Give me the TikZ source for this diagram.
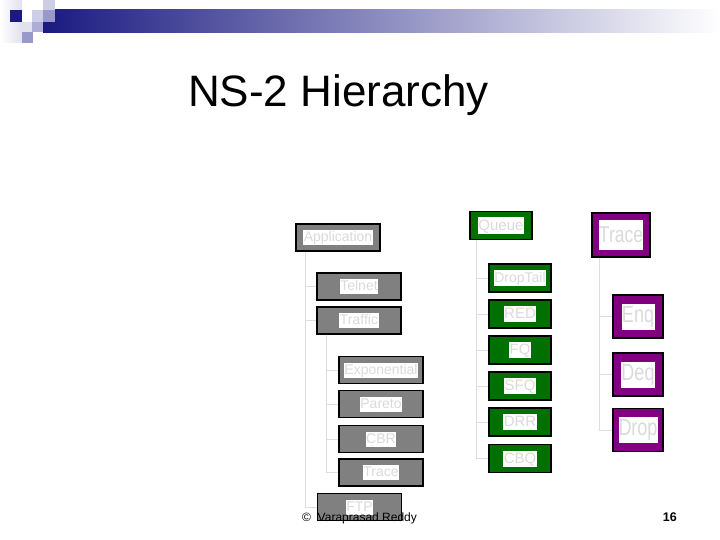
\documentclass[tikz,border=0pt]{standalone}
\usepackage{fontspec}
\setmainfont{Liberation Sans}
\definecolor{navy}{RGB}{26,26,128}
\definecolor{barmid}{RGB}{165,165,190}
\definecolor{sqlight}{RGB}{205,205,232}
\definecolor{sqmid}{RGB}{152,152,204}
\definecolor{sqpale}{RGB}{225,225,240}
\definecolor{boxgray}{RGB}{128,128,128}
\definecolor{boxgreen}{RGB}{0,112,0}
\definecolor{boxpurple}{RGB}{128,0,128}
\definecolor{txtgray}{RGB}{218,218,218}
\definecolor{linegray}{RGB}{222,222,222}
\begin{document}
\begin{tikzpicture}[x=1pt,y=-1pt,
  gbox/.style={draw=black, line width=1.2pt, fill=boxgray, minimum width=84, minimum height=27, inner sep=0pt},
  grbox/.style={draw=black, line width=1.2pt, fill=boxgreen, minimum width=62, minimum height=28, inner sep=0pt},
  pbox/.style={draw=black, line width=1.2pt, fill=boxpurple, minimum width=50, minimum height=43, inner sep=0pt},
  glab/.style={fill=white, text=txtgray, font=\fontsize{14}{14}\selectfont, inner xsep=0.5pt, inner ysep=0.5pt, text height=11pt, text depth=3pt},
  grlab/.style={fill=white, text=txtgray, font=\fontsize{15}{15}\selectfont, inner xsep=0.5pt, inner ysep=0.5pt, text height=12pt, text depth=3pt},
  plab/.style={fill=white, text=txtgray, font=\fontsize{18}{18}\selectfont, inner sep=0pt, minimum width=33, minimum height=26},
  conn/.style={draw=linegray, line width=1pt}
]
\useasboundingbox (0,0) rectangle (720,540);
% header decoration
\shade[left color=white, right color=sqpale] (0,0) rectangle (22,43);
\shade[left color=navy, middle color=barmid, right color=white] (43,10) rectangle (720,33);
\fill[navy] (10,10) rectangle (22,22);
\fill[sqlight] (32,10) rectangle (43,22);
\fill[sqlight] (43,0) rectangle (55,10);
\fill[sqmid] (43,10) rectangle (55,22);
\fill[sqpale] (22,22) rectangle (32,32);
\fill[sqmid!80] (32,22) rectangle (43,32);
\fill[sqmid] (22,32) rectangle (33,43);
% title
\node[anchor=base west, inner sep=0pt, font=\fontsize{44}{44}\selectfont] (title) at (188,107) {NS-2 Hierarchy};
% gray tree
\node[gbox] (app) at (338,237.5) {};
\node[gbox] (telnet) at (359,286.5) {};
\node[gbox] (traffic) at (359,320.5) {};
\node[gbox] (expo) at (381,370) {};
\node[gbox] (pareto) at (381,404) {};
\node[gbox] (cbr) at (381,439) {};
\node[gbox] (gtrace) at (381,472.5) {};
\node[gbox] (ftp) at (359.5,507) {};
\node[glab] (app-t) at (app) {Application};
\node[glab] (telnet-t) at (telnet) {Telnet};
\node[glab] (traffic-t) at (traffic) {Traffic};
\node[glab] (expo-t) at (expo) {Exponential};
\node[glab] (pareto-t) at (pareto) {Pareto};
\node[glab] (cbr-t) at (cbr) {CBR};
\node[glab] (gtrace-t) at (gtrace) {Trace};
\node[glab] (ftp-t) at (ftp) {FTP};
\draw[conn] ([xshift=10pt]app.south west) |- (telnet.west);
\draw[conn] ([xshift=10pt]app.south west) |- (traffic.west);
\draw[conn] ([xshift=10pt]app.south west) |- (ftp.west);
\draw[conn] ([xshift=10pt]traffic.south west) |- (expo.west);
\draw[conn] ([xshift=10pt]traffic.south west) |- (pareto.west);
\draw[conn] ([xshift=10pt]traffic.south west) |- (cbr.west);
\draw[conn] ([xshift=10pt]traffic.south west) |- (gtrace.west);
% green tree
\node[grbox] (queue) at (501,225.5) {};
\node[grbox] (droptail) at (520,278) {};
\node[grbox] (red) at (520,314) {};
\node[grbox] (fq) at (520,350) {};
\node[grbox] (sfq) at (520,386) {};
\node[grbox] (drr) at (520,422) {};
\node[grbox] (cbq) at (520,458.5) {};
\node[grlab] (queue-t) at (queue) {Queue};
\node[grlab, font=\fontsize{14}{14}\selectfont] (droptail-t) at (droptail) {DropTail};
\node[grlab] (red-t) at (red) {RED};
\node[grlab] (fq-t) at (fq) {FQ};
\node[grlab] (sfq-t) at (sfq) {SFQ};
\node[grlab] (drr-t) at (drr) {DRR};
\node[grlab] (cbq-t) at (cbq) {CBQ};
\foreach \n in {droptail,red,fq,sfq,drr,cbq}
  \draw[conn] ([xshift=7pt]queue.south west) |- (\n.west);
% purple tree
\node[pbox, minimum width=58, minimum height=44] (ptrace) at (621,235) {};
\node[pbox] (enq) at (638,316.5) {};
\node[pbox] (deq) at (638,374.5) {};
\node[pbox] (drop) at (638,430) {};
\node[plab, minimum width=44, minimum height=29, font=\fontsize{17.5}{17.5}\selectfont] (ptrace-t) at (ptrace) {\scalebox{1}[1.3]{Trace}};
\node[plab] (enq-t) at (enq) {\scalebox{1}[1.3]{Enq}};
\node[plab] (deq-t) at (deq) {\scalebox{1}[1.3]{Deq}};
\node[plab] (drop-t) at (drop) {\scalebox{1}[1.3]{Drop}};
\foreach \n in {enq,deq,drop}
  \draw[conn] ([xshift=8pt]ptrace.south west) |- (\n.west);
% footer
\node[anchor=base west, inner sep=0pt, font=\fontsize{12}{12}\selectfont] (copy) at (302,521) {©\ \ Varaprasad Reddy};
\node[anchor=base east, inner sep=0pt, font=\fontsize{12.5}{12.5}\selectfont\bfseries] (pagenum) at (677,521) {16};
\end{tikzpicture}
\end{document}
